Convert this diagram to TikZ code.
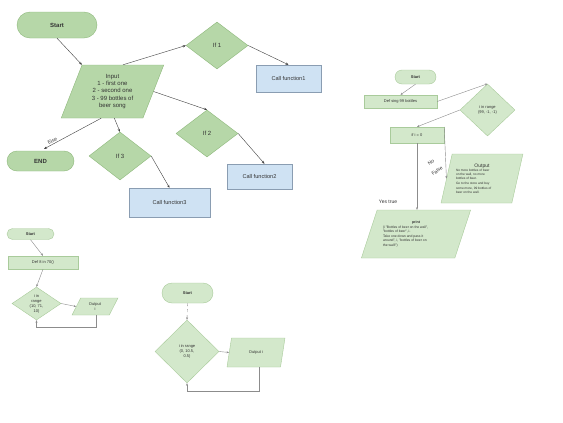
\documentclass[tikz,border=0pt]{standalone}
\usepackage{fontspec}
\setmainfont{Liberation Sans}
\usetikzlibrary{shapes.geometric,arrows.meta,calc}
\definecolor{gA}{HTML}{B6D7A8}
\definecolor{gAb}{HTML}{8DB87A}
\definecolor{gB}{HTML}{D3E8CB}
\definecolor{gBb}{HTML}{A9CB9B}
\definecolor{bA}{HTML}{CFE2F3}
\definecolor{bAb}{HTML}{8A9DB2}
\definecolor{lnA}{HTML}{404040}
\definecolor{lnB}{HTML}{8C8C8C}
\begin{document}
\begin{tikzpicture}[x=1pt,y=-1pt,
  every node/.style={font=\fontsize{6}{7.4}\selectfont, align=center, inner sep=0pt, text=black!80},
  termA/.style={rectangle, draw=gAb, fill=gA, font=\fontsize{6}{7}\selectfont\bfseries},
  termB/.style={rectangle, draw=gBb, fill=gB, font=\fontsize{4}{5}\selectfont\bfseries},
  diaA/.style={diamond, draw=gAb, fill=gA},
  diaB/.style={diamond, draw=gBb, fill=gB, font=\fontsize{4}{5}\selectfont},
  boxA/.style={rectangle, draw=bAb, fill=bA, font=\fontsize{5.6}{7}\selectfont},
  boxB/.style={rectangle, draw=gBb, fill=gB, font=\fontsize{4}{5}\selectfont},
  paraA/.style={trapezium, trapezium stretches=true, draw=gAb, fill=gA},
  paraB/.style={trapezium, trapezium stretches=true, draw=gBb, fill=gB, font=\fontsize{4}{5}\selectfont},
  arrA/.style={draw=lnA, line width=0.4pt, -{Stealth[length=3pt,width=2.4pt]}},
  arrB/.style={draw=lnB, line width=0.4pt, -{Stealth[length=2.5pt,width=2pt]}},
  lab/.style={font=\fontsize{5}{6}\selectfont}
]
\useasboundingbox[fill=white] (0,0) rectangle (563,423);

% ---------- main flowchart ----------
\node[termA, rounded corners=13pt, minimum width=80, minimum height=26] (start) at (57,25) {Start};
\node[paraA, trapezium left angle=68, trapezium right angle=112, minimum width=103, minimum height=53] (input) at (112.5,91.5)
  {Input\\1 - first one\\2 - second one\\3 - 99 bottles of\\beer song};
\node[diaA, minimum width=62, minimum height=47] (if1) at (217,45.5) {If 1};
\node[boxA, minimum width=65, minimum height=27] (cf1) at (288.5,78.5) {Call function1};
\node[diaA, minimum width=62, minimum height=47] (if2) at (207,133.5) {If 2};
\node[boxA, minimum width=65, minimum height=25] (cf2) at (259.5,176.5) {Call function2};
\node[diaA, minimum width=62, minimum height=48] (if3) at (120,156) {If 3};
\node[boxA, minimum width=81, minimum height=29] (cf3) at (169.5,202.5) {Call function3};
\node[termA, rounded corners=10pt, minimum width=67, minimum height=20] (end) at (40.5,161) {END};

\draw[arrA] (start.south) -- (input.top left corner);
\draw[arrA] ($(input.top left corner)!0.5!(input.top right corner)$) -- (if1.west);
\draw[arrA] (if1.east) -- (cf1.north);
\draw[arrA] ($(input.top right corner)!0.5!(input.bottom right corner)$) -- (if2.north);
\draw[arrA] (if2.east) -- ($(cf2.north)+(5,0)$);
\draw[arrA] ($(input.bottom left corner)!0.65!(input.bottom right corner)$) -- (if3.north);
\draw[arrA] (if3.east) -- (cf3.north);
\draw[arrA, shorten >=4pt] ($(input.bottom left corner)!0.49!(input.bottom right corner)$) -- node[lab, sloped, above=1pt, pos=0.78] {Else} (end.north);

% ---------- right flowchart ----------
\node[termB, rounded corners=7pt, minimum width=41, minimum height=14] (rstart) at (415.5,77) {Start};
\node[boxB, minimum width=73, minimum height=13] (rdef) at (400.5,101.5) {Def sing 99 bottles};
\node[diaB, minimum width=55, minimum height=52] (rdia) at (487.5,110) {i in range\\(99, -1, -1)};
\node[boxB, minimum width=54, minimum height=16] (rif) at (417,135) {if i = 0};
\node[paraB, trapezium left angle=72, trapezium right angle=108, minimum width=82, minimum height=49] (rout) at (482,178.5)
  {\parbox{52pt}{{\centering\fontsize{5}{6}\selectfont Output\par}\fontsize{3.2}{4.2}\selectfont\raggedright
   No more bottles of beer\\ on the wall, no more\\ bottles of beer.\\[1pt] Go to the store and buy\\ some more, 99 bottles of\\ beer on the wall.}};
\node[paraB, trapezium left angle=63, trapezium right angle=117, minimum width=110, minimum height=48] (rprint) at (416,234)
  {\parbox{66pt}{{\centering\bfseries\fontsize{3.6}{4.4}\selectfont print\par}\fontsize{3.4}{4.6}\selectfont\raggedright
   (i "Bottles of beer on the wall", \\ "bottles of beer", i- \\ Take one down and pass it \\ around", i, "bottles of beer on \\ the wall!")}};

\draw[arrB] (rstart.south) -- (rdef.north);
\draw[arrB] (rdef.east) -- (rdia.north);
\draw[arrB] (rdia.west) -- (rif.north);
\draw[arrB] (rif.south) -- (rif.south |- rprint.north);
\draw[arrB] (rif.north east) -- ($(rout.top left corner)!0.5!(rout.bottom left corner)$);
\node[lab, anchor=south] (yes) at (388,204) {Yes true};
\node[lab, rotate=35] (no) at (431,162.5) {No};
\node[lab, rotate=35] (false) at (437,171) {False};

% ---------- bottom-left flowchart ----------
\node[termB, rounded corners=5.5pt, minimum width=47, minimum height=11] (bstart) at (30.5,234) {Start};
\node[boxB, minimum width=70, minimum height=13] (bdef) at (43,262.5) {Def 8 in 70()};
\node[diaB, minimum width=49, minimum height=33] (bdia) at (36.5,303.5) {i in\\range\\(10, 71,\\10)};
\node[paraB, trapezium left angle=65, trapezium right angle=115, minimum width=46, minimum height=17] (bout) at (95,306.5) {Output\\i};
\coordinate (bloop) at ($(bdia.south)+(0,6.5)$);

\draw[arrB] (bstart.south) -- (bdef.north);
\draw[arrB] (bdef.south) -- (bdia.north);
\draw[arrB] (bdia.east) -- ($(bout.top left corner)!0.5!(bout.bottom left corner)$);
\draw[arrB] ($(bout.bottom left corner)!0.65!(bout.bottom right corner)$) |- (bloop) -- (bdia.south);

% ---------- bottom-middle flowchart ----------
\node[termB, rounded corners=10pt, minimum width=51, minimum height=20] (mstart) at (187.5,293) {Start};
\node[diaB, minimum width=64, minimum height=63] (mdia) at (187,351.5) {i in range\\(0, 10.5,\\0.5)};
\node[paraB, trapezium left angle=71, trapezium right angle=109, minimum width=58, minimum height=29] (mout) at (256,352.5) {Output i};
\coordinate (mloop) at ($(mdia.south)+(0,8)$);

\draw[arrB, dashed] (mstart.south) -- (mdia.north);
\draw[arrB] (mdia.east) -- ($(mout.top left corner)!0.5!(mout.bottom left corner)$);
\draw[arrB] ($(mout.bottom left corner)!0.6!(mout.bottom right corner)$) |- (mloop) -- (mdia.south);
\end{tikzpicture}
\end{document}
